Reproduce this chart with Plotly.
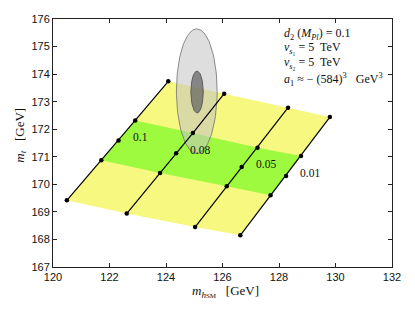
import numpy as np
import plotly.graph_objects as go

# ---- data ----
line_labels = ["0.1", "0.08", "0.05", "0.01"]
# each line: 5 points (bottom, 1/3, 1/2, 2/3, top)
mh_lines = [
    [120.49, 121.71, 122.32, 122.91, 124.08],
    [122.61, 123.79, 124.36, 124.95, 126.06],
    [125.03, 126.15, 126.68, 127.24, 128.32],
    [126.63, 127.70, 128.25, 128.78, 129.80],
]
mt_lines = [
    [169.42, 170.87, 171.59, 172.32, 173.74],
    [168.94, 170.41, 171.13, 171.86, 173.29],
    [168.45, 169.93, 170.63, 171.33, 172.78],
    [168.15, 169.60, 170.30, 171.03, 172.44],
]
label_x = [123.09, 125.20, 127.54, 129.09]
label_y = [171.71, 171.26, 170.72, 170.41]

# measured ellipses (centre, half widths)
ell_outer = dict(cx=125.09, cy=173.38, rx=0.72, ry=2.26)
ell_inner = dict(cx=125.10, cy=173.35, rx=0.22, ry=0.76)

x_ticks = [120, 122, 124, 126, 128, 130, 132]
y_ticks = [167, 168, 169, 170, 171, 172, 173, 174, 175, 176]

YELLOW = "#f7f87f"
GREEN = "#9dfa3e"
SERIF = "Liberation Serif"
SANS = "Liberation Sans"


def band(i0, i1):
    """Polygon between point index i0 and i1 along each line, spanning lines 1..4."""
    xs, ys = [], []
    xs += mh_lines[0][i0:i1 + 1]
    ys += mt_lines[0][i0:i1 + 1]
    for k in range(1, len(mh_lines) - 1):
        xs.append(mh_lines[k][i1]); ys.append(mt_lines[k][i1])
    xs += mh_lines[-1][i0:i1 + 1][::-1]
    ys += mt_lines[-1][i0:i1 + 1][::-1]
    for k in range(len(mh_lines) - 2, 0, -1):
        xs.append(mh_lines[k][i0]); ys.append(mt_lines[k][i0])
    xs.append(xs[0]); ys.append(ys[0])
    return xs, ys


def ellipse(e):
    t = np.linspace(0, 2 * np.pi, 121)
    return e["cx"] + e["rx"] * np.cos(t), e["cy"] + e["ry"] * np.sin(t)


fig = go.Figure()

yx, yy = band(0, 4)
fig.add_trace(go.Scatter(x=yx, y=yy, fill="toself", fillcolor=YELLOW,
                         mode="none", hoverinfo="skip", showlegend=False))
gx, gy = band(1, 3)
fig.add_trace(go.Scatter(x=gx, y=gy, fill="toself", fillcolor=GREEN,
                         mode="none", hoverinfo="skip", showlegend=False))

for e, fc, lc in [(ell_outer, "rgba(195,195,195,0.55)", "#707070"),
                  (ell_inner, "rgba(95,95,95,0.7)", "#4a4a4a")]:
    ex, ey = ellipse(e)
    fig.add_trace(go.Scatter(x=ex, y=ey, fill="toself", fillcolor=fc,
                             mode="lines", line=dict(color=lc, width=0.8),
                             hoverinfo="skip", showlegend=False))

for xs, ys in zip(mh_lines, mt_lines):
    fig.add_trace(go.Scatter(x=xs, y=ys, mode="lines+markers",
                             line=dict(color="black", width=1.2),
                             marker=dict(color="black", size=4.5),
                             hoverinfo="skip", showlegend=False))

for t, x, y in zip(line_labels, label_x, label_y):
    fig.add_annotation(x=x, y=y, text=t, showarrow=False,
                       font=dict(family=SERIF, size=11.5, color="#111"))

info = [
    "<i>d</i><sub>2</sub> (<i>M<sub>Pl</sub></i>) = 0.1",
    "<i>v</i><sub><i>s</i>₁</sub> = 5  TeV",
    "<i>v</i><sub><i>s</i>₂</sub> = 5  TeV",
    "<i>a</i><sub>1</sub> ≈ − (584)<sup>3</sup>   GeV<sup>3</sup>",
]
info_y = [0.940, 0.884, 0.822, 0.755]
for t, y in zip(info, info_y):
    fig.add_annotation(xref="paper", yref="paper", x=0.675, y=y, text=t,
                       showarrow=False, xanchor="left", yanchor="middle",
                       font=dict(family=SERIF, size=12, color="#111"))

# axis titles
fig.add_annotation(xref="paper", yref="paper", x=0.508, y=-0.098,
                   text="<i>m</i><sub><i>h</i><span style='font-size:7px'>SM</span></sub>   [GeV]",
                   showarrow=False, xanchor="center", yanchor="middle",
                   font=dict(family=SERIF, size=13, color="#111"))
fig.add_annotation(xref="paper", yref="paper", x=-0.097, y=0.53,
                   text="<i>m<sub>t</sub></i>   [GeV]", textangle=-90,
                   showarrow=False, xanchor="center", yanchor="middle",
                   font=dict(family=SERIF, size=13, color="#111"))

axis_common = dict(showgrid=False, zeroline=False, showline=True,
                   linecolor="#222", linewidth=1, mirror="allticks",
                   ticks="inside", ticklen=4, tickcolor="#222",
                   automargin=False,
                   tickfont=dict(family=SANS, size=11, color="#111"))
fig.update_xaxes(range=[120, 132], tickvals=x_ticks,
                 ticktext=[str(v) for v in x_ticks], **axis_common)
fig.update_yaxes(range=[167, 176], tickvals=y_ticks,
                 ticktext=[str(v) for v in y_ticks], **axis_common)

# page body adds an 8px offset; margins compensate so the plot area lands
# at the reference position (left 53, top 18.5, right 392, bottom 266.7)
fig.update_layout(width=415, height=312,
                  margin=dict(l=45, r=31, t=10.5, b=53.3),
                  plot_bgcolor="white", paper_bgcolor="white",
                  showlegend=False)

fig.write_html("out.html")
